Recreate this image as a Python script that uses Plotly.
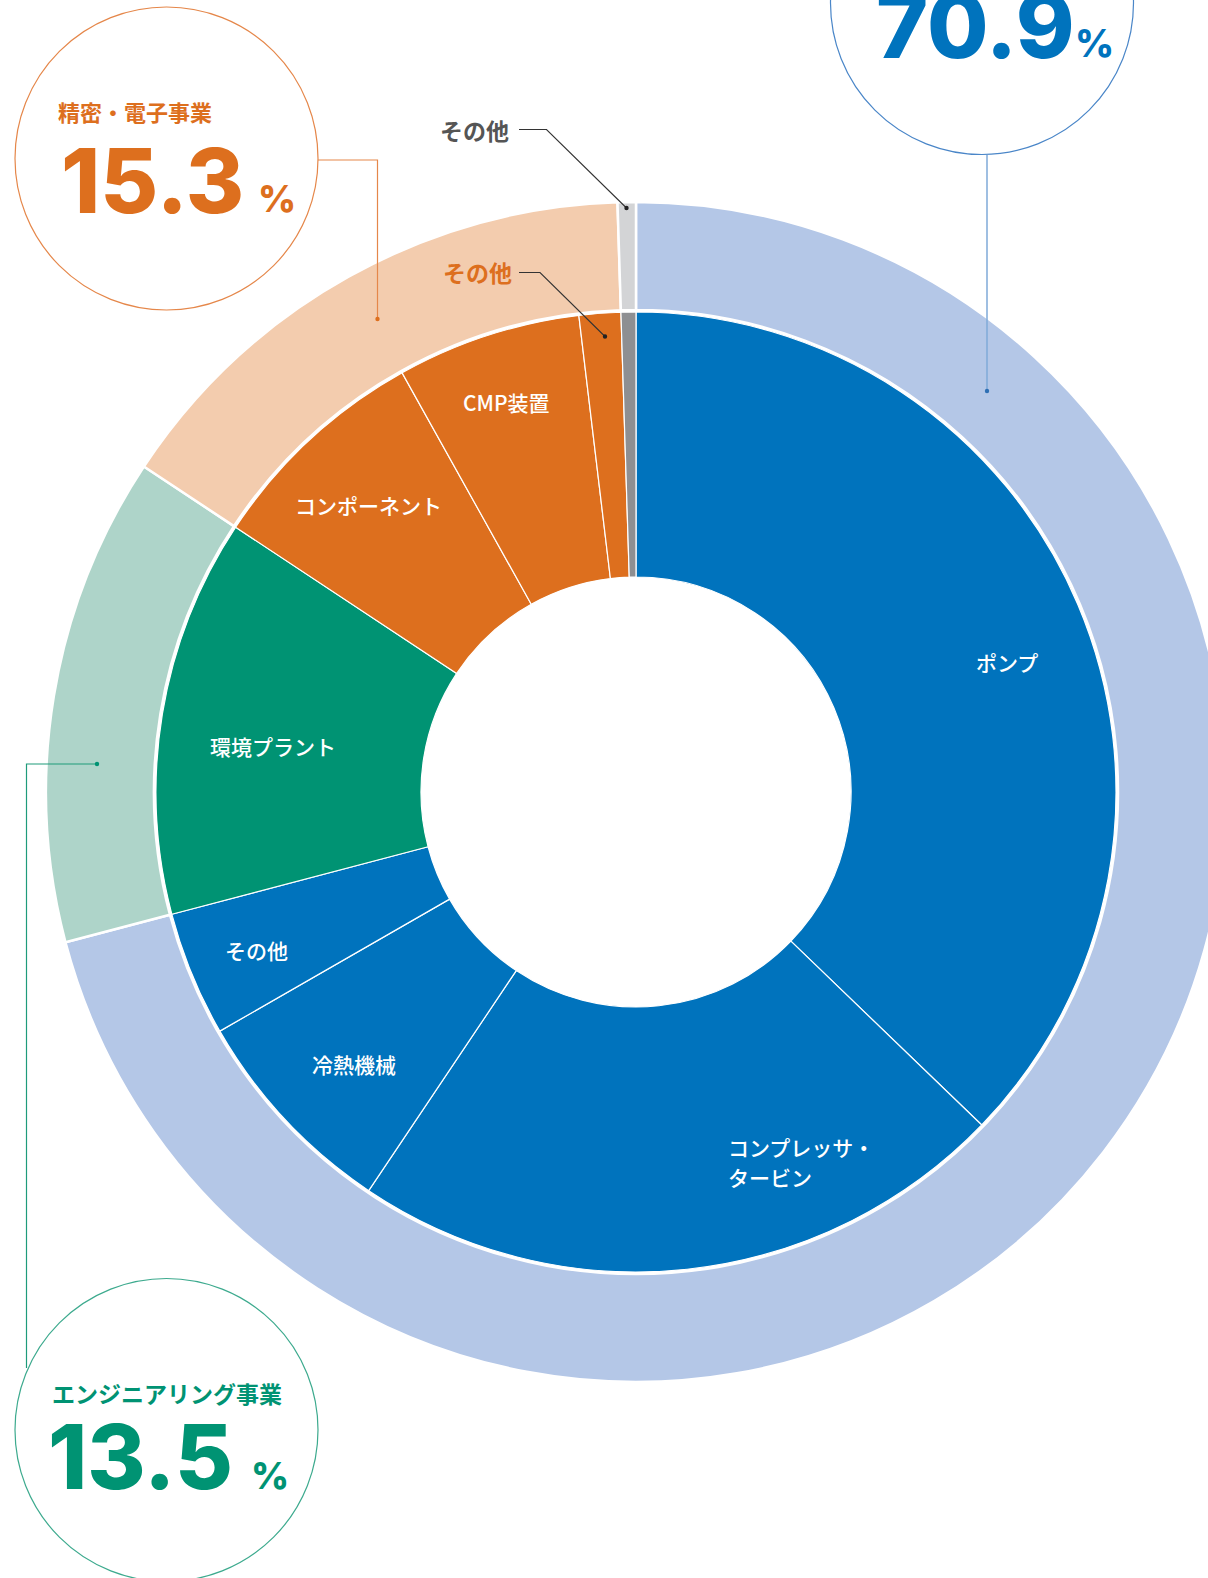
import plotly.graph_objects as go

# ---------------- data ----------------
segment_labels = ["風水力事業", "エンジニアリング事業", "精密・電子事業", "その他"]
segment_values = [70.9, 13.4, 15.2, 0.5]
segment_share_text = ["70.9", "13.5", "15.3"]

product_labels = ["ポンプ", "コンプレッサ・タービン", "冷熱機械", "その他（風水力）",
                  "環境プラント", "コンポーネント", "CMP装置", "その他（精密・電子）", "その他"]
product_values = [37.2, 22.2, 7.3, 4.2, 13.4, 7.6, 6.2, 1.4, 0.5]

# ---------------- styling ----------------
W, H = 1240, 1578
BLUE, GREEN, ORANGE, GRAY = "#0073BD", "#009373", "#DD6F1E", "#8E8F92"
LBLUE, LGREEN, LORANGE, LGRAY = "#B4C7E7", "#AED4C9", "#F3CCAE", "#D3D4D6"
segment_colors = [LBLUE, LGREEN, LORANGE, LGRAY]
product_colors = [BLUE, BLUE, BLUE, BLUE, GREEN, ORANGE, ORANGE, ORANGE, GRAY]

CX, CY = 636, 792
R_OUT, R_OUT_IN = 590, 482
R_IN, R_HOLE = 480, 215

JP = "Noto Sans CJK JP"
NUM = "Inter, Liberation Sans, Arial, sans-serif"
NUM_W = 800


def px(x):
    return x / W


def py(y):
    return 1 - y / H


def dom(r):
    return dict(x=[px(CX - r), px(CX + r)], y=[py(CY + r), py(CY - r)])


fig = go.Figure()
fig.add_trace(go.Pie(
    labels=segment_labels, values=segment_values, sort=False, direction="clockwise",
    rotation=0, hole=R_OUT_IN / R_OUT, domain=dom(R_OUT), textinfo="none",
    marker=dict(colors=segment_colors, line=dict(color="white", width=2.5)),
    showlegend=False, hoverinfo="label+value",
))
fig.add_trace(go.Pie(
    labels=product_labels, values=product_values, sort=False, direction="clockwise",
    rotation=0, hole=R_HOLE / R_IN, domain=dom(R_IN), textinfo="none",
    marker=dict(colors=product_colors, line=dict(color="white", width=1.2)),
    showlegend=False, hoverinfo="label+value",
))

ann = []


def text(x, y, s, size, color, family=JP, weight="normal", xanchor="center",
         align="center", height=None):
    a = dict(x=px(x), y=py(y), xref="paper", yref="paper", text=s, showarrow=False,
             xanchor=xanchor, yanchor="middle", align=align,
             font=dict(size=size, color=color, family=family, weight=weight))
    if height:
        a["height"] = height
        a["valign"] = "middle"
    ann.append(a)


LW = 500
# labels inside inner ring
text(1007, 662, product_labels[0], 21, "white", weight=LW)
text(726, 1147, "コンプレッサ・", 21, "white", weight=LW, xanchor="left", align="left")
text(726, 1177, "タービン", 21, "white", weight=LW, xanchor="left", align="left")
text(354, 1064, product_labels[2], 21, "white", weight=LW)
text(256, 950, "その他", 21, "white", weight=LW)
text(273, 746, product_labels[4], 21, "white", weight=LW)
text(368, 505, product_labels[5], 21, "white", weight=LW)
text(506, 402, product_labels[6], 21, "white", weight=LW)

# small その他 callouts
text(474, 130, "その他", 23, "#555555", weight="bold")
text(477, 272, "その他", 23, ORANGE, weight="bold")

# big circles
BIG_H = 78
text(135, 111, segment_labels[2], 22, ORANGE, weight="bold")
text(152, 180, segment_share_text[2], 89, ORANGE, family=NUM, weight=NUM_W, height=BIG_H)
text(277, 199, "%", 37, ORANGE, family=NUM, weight=NUM_W)

text(167, 1393, segment_labels[1], 23, GREEN, weight="bold")
text(140, 1456, segment_share_text[1], 89, GREEN, family=NUM, weight=NUM_W, height=BIG_H)
text(270, 1475, "%", 37, GREEN, family=NUM, weight=NUM_W)

text(975, 25, segment_share_text[0], 89, BLUE, family=NUM, weight=NUM_W, height=BIG_H)
text(1094, 43, "%", 38, BLUE, family=NUM, weight=NUM_W)

shapes = []


def circle(cx, cy, r, color, width=1.2, fill=None):
    shapes.append(dict(type="circle", xref="paper", yref="paper",
                       x0=px(cx - r), x1=px(cx + r), y0=py(cy + r), y1=py(cy - r),
                       line=dict(color=color, width=width),
                       fillcolor=fill if fill else "rgba(0,0,0,0)"))


def poly(points, color, width=1.2):
    path = "M " + " L ".join(f"{px(x)},{py(y)}" for x, y in points)
    shapes.append(dict(type="path", xref="paper", yref="paper", path=path,
                       line=dict(color=color, width=width)))


def dot(x, y, color, r=2.2):
    shapes.append(dict(type="circle", xref="paper", yref="paper",
                       x0=px(x - r), x1=px(x + r), y0=py(y + r), y1=py(y - r),
                       line=dict(width=0), fillcolor=color))


circle(982, 3, 151.5, "#4A86C8")
circle(166.5, 158.5, 151.5, "#E5874A")
circle(166.5, 1430, 151.5, "#3DAA8E")

poly([(987, 155), (987, 391)], "#7FAAD8", 1.5)
dot(987, 391, "#2E6FB4")

poly([(318, 160), (377.5, 160), (377.5, 319)], "#E5874A", 1.2)
dot(377.5, 319, ORANGE)

poly([(97, 764), (26.5, 764), (26.5, 1368)], "#1E9B7B", 1.2)
dot(97, 764, GREEN)

poly([(519, 129.5), (546.5, 129.5), (626.5, 208)], "#333333", 1.1)
dot(626.5, 208, "#222222")

poly([(519, 272.5), (540, 272.5), (605, 336.5)], "#333333", 1.1)
dot(605, 336.5, "#222222")

fig.update_layout(
    width=W, height=H, margin=dict(l=0, r=0, t=0, b=0),
    paper_bgcolor="white", plot_bgcolor="white",
    annotations=ann, shapes=shapes, showlegend=False,
)

fig.write_html("out.html", config={"displayModeBar": False},
               post_script="document.body.style.margin='0px';document.body.style.overflow='hidden';")
